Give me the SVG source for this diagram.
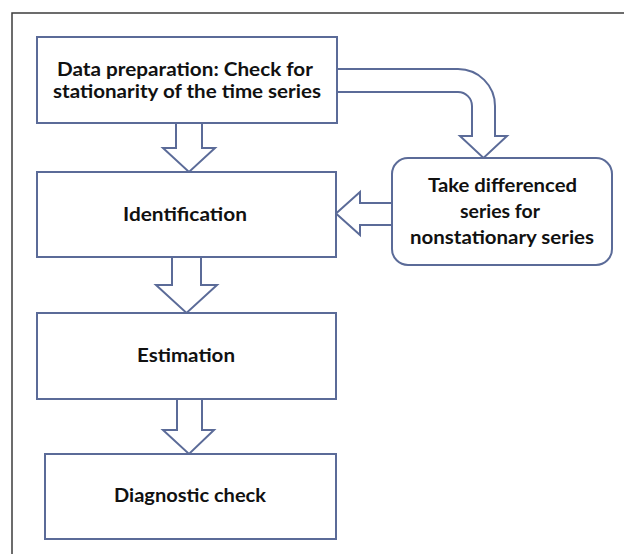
<svg xmlns="http://www.w3.org/2000/svg" width="624" height="554" viewBox="0 0 624 554">
  <style>
    .box { fill: #ffffff; stroke: #5b6b98; stroke-width: 2; }
    .arrow { fill: #ffffff; stroke: #5b6b98; stroke-width: 2; stroke-linejoin: miter; }
    .label { font-family: "Lato", "Open Sans", "Liberation Sans", sans-serif; font-weight: bold; font-size: 18px; fill: #111111; text-anchor: middle; }
    .frame { fill: none; stroke: #3c3c3c; stroke-width: 1.5; }
  </style>
  <rect width="624" height="554" fill="#ffffff"/>
  <!-- page frame -->
  <path class="frame" d="M12,554 V13 H624"/>

  <g id="connectors">
    <!-- preparation -> identification -->
    <polygon class="arrow" points="176,123 202,123 202,148 215,148 189,172 163,148 176,148"/>
    <!-- identification -> estimation -->
    <polygon class="arrow" points="172,257 201,257 201,285 217,285 186.5,313 156,285 172,285"/>
    <!-- estimation -> diagnostic check -->
    <polygon class="arrow" points="177,399 202,399 202,430 214,430 189,454 163,430 177,430"/>
    <!-- differencing -> identification -->
    <polygon class="arrow" points="392,203 360,203 360,192 336,213.5 360,235 360,225 392,225"/>
    <!-- bent arrow: preparation -> differencing -->
    <path class="arrow" d="M337,69 H458 A37,37 0 0 1 495,106 V136 H507 L483.5,158 L460,136 H472 V106 A14,14 0 0 0 458,92 H337"/>
  </g>

  <g id="node-preparation">
    <rect class="box" x="37" y="37" width="300" height="86"/>
    <text class="label" x="185" y="76" textLength="256" lengthAdjust="spacingAndGlyphs">Data preparation: Check for</text>
    <text class="label" x="187" y="98" textLength="268" lengthAdjust="spacingAndGlyphs">stationarity of the time series</text>
  </g>

  <g id="node-identification">
    <rect class="box" x="37" y="172" width="299" height="85"/>
    <text class="label" x="185" y="220.5" textLength="124" lengthAdjust="spacingAndGlyphs">Identification</text>
  </g>

  <g id="node-estimation">
    <rect class="box" x="37" y="313" width="299" height="86"/>
    <text class="label" x="186" y="362" textLength="98" lengthAdjust="spacingAndGlyphs">Estimation</text>
  </g>

  <g id="node-diagnostic">
    <rect class="box" x="45" y="454" width="291" height="85"/>
    <text class="label" x="190" y="502" textLength="152" lengthAdjust="spacingAndGlyphs">Diagnostic check</text>
  </g>

  <g id="node-differencing">
    <rect class="box" x="392" y="158" width="220" height="107" rx="16" ry="16"/>
    <text class="label" x="502.5" y="191.5" textLength="149" lengthAdjust="spacingAndGlyphs">Take differenced</text>
    <text class="label" x="500" y="217.5" textLength="80" lengthAdjust="spacingAndGlyphs">series for</text>
    <text class="label" x="502" y="243.5" textLength="184" lengthAdjust="spacingAndGlyphs">nonstationary series</text>
  </g>
</svg>
